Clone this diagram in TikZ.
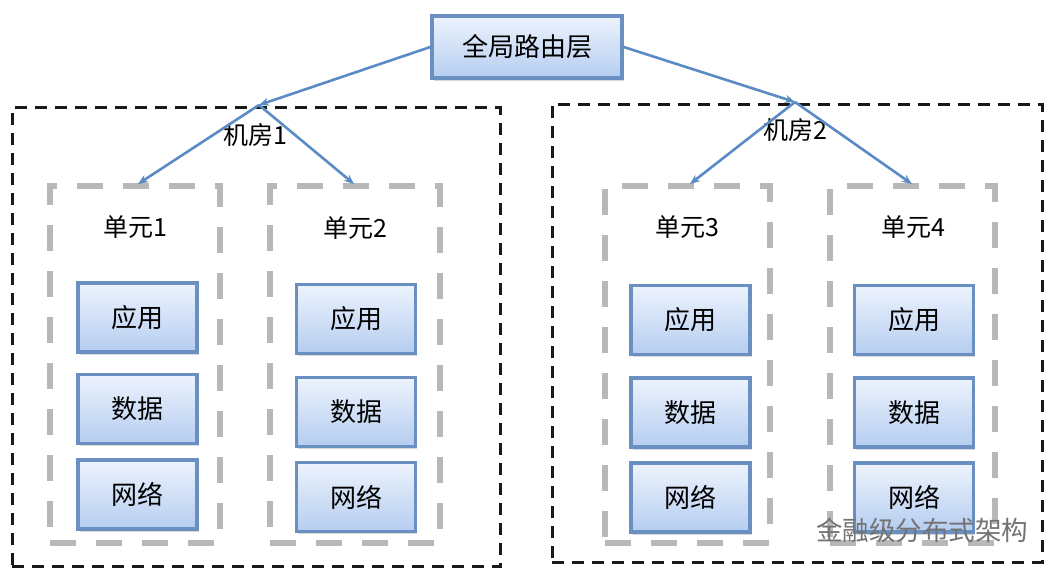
\documentclass[tikz,border=0pt]{standalone}
\usepackage{fontspec}
\newfontfamily\cjk{Noto Sans CJK SC}
\usetikzlibrary{arrows.meta,shadows}
\definecolor{boxtop}{HTML}{EDF3FD}
\definecolor{boxbot}{HTML}{B5CDF0}
\definecolor{boxline}{HTML}{6A90C2}
\definecolor{arrowc}{HTML}{5B8BC4}
\definecolor{unitgray}{HTML}{B8B8B8}
\tikzset{
  bluebox/.style={draw=boxline, line width=3.4pt, top color=boxtop, bottom color=boxbot,
    minimum width=119pt, minimum height=69pt, inner sep=0pt,
    font=\cjk\fontsize{26}{30}\selectfont, text=black,
    drop shadow={shadow xshift=1.5pt, shadow yshift=-2.5pt, opacity=0.25, fill=black!60}},
  roombox/.style={draw=black!90, line width=3pt, dash pattern=on 12pt off 8pt, inner sep=0pt},
  unitbox/.style={draw=unitgray, line width=5.5pt, dash pattern=on 26pt off 20pt, inner sep=0pt},
  lbl/.style={font=\cjk\fontsize{25}{30}\selectfont, text=black, inner sep=0pt},
  conn/.style={draw=arrowc, line width=2.6pt, -{Stealth[length=10pt,width=8pt]}},
}
\begin{document}
\begin{tikzpicture}[x=1pt,y=-1pt]
\useasboundingbox (0,0) rectangle (1052,571);
\fill[white] (0,0) rectangle (1052,571);

% rooms
\node[roombox, minimum width=488pt, minimum height=459pt] (room1) at (256,337) {};
\node[roombox, minimum width=490pt, minimum height=458pt] (room2) at (797,333) {};

% units
\node[unitbox, minimum width=170pt, minimum height=357pt] (u1) at (135,364.5) {};
\node[unitbox, minimum width=170pt, minimum height=357pt] (u2) at (355,364.5) {};
\node[unitbox, minimum width=165pt, minimum height=357pt] (u3) at (687.5,364.5) {};
\node[unitbox, minimum width=165pt, minimum height=357pt] (u4) at (912.5,364.5) {};

% labels
\node[lbl] (r1lbl) at (255,135) {机房1};
\node[lbl] (r2lbl) at (795,130) {机房2};
\node[lbl] (u1lbl) at (135,227) {单元1};
\node[lbl] (u2lbl) at (355,228) {单元2};
\node[lbl] (u3lbl) at (687,227) {单元3};
\node[lbl] (u4lbl) at (913,227) {单元4};

% top box
\node[bluebox, minimum width=190pt, minimum height=62pt] (top) at (527,47) {全局路由层};

% inner boxes
\node[bluebox] (a1) at (137.5,317.5) {应用};
\node[bluebox] (d1) at (137.5,409) {数据};
\node[bluebox] (n1) at (137.5,494.5) {网络};
\node[bluebox] (a2) at (356,319) {应用};
\node[bluebox] (d2) at (356,412) {数据};
\node[bluebox] (n2) at (356,497) {网络};
\node[bluebox] (a3) at (690.5,320) {应用};
\node[bluebox] (d3) at (690.5,412.5) {数据};
\node[bluebox] (n3) at (690.5,497.5) {网络};
\node[bluebox] (a4) at (914,320) {应用};
\node[bluebox] (d4) at (914,412.5) {数据};
\node[bluebox] (n4) at (914,497.5) {网络};

% connectors
\coordinate (apex1) at (259,105);
\coordinate (apex2) at (795,102);
\coordinate (t1) at (138,184);
\coordinate (t2) at (354,184);
\coordinate (t3) at (690,184);
\coordinate (t4) at (912,184);
\draw[conn] (top.west) -- (apex1);
\draw[conn] (top.east) -- (apex2);
\draw[conn] (apex1) -- (t1);
\draw[conn] (apex1) -- (t2);
\draw[conn] (apex2) -- (t3);
\draw[conn] (apex2) -- (t4);

% watermark
\node[font=\cjk\fontsize{26.5}{30}\selectfont, text=black!55, inner sep=0pt] (wm) at (922,530) {金融级分布式架构};
\end{tikzpicture}
\end{document}
